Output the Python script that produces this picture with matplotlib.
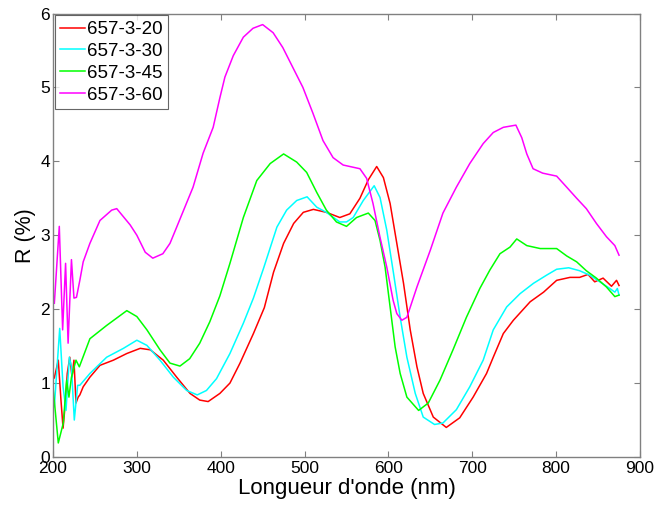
import matplotlib
matplotlib.use("Agg")
import matplotlib.pyplot as plt

# 657-3-20 (red)
wl_20 = [201.6, 206.3, 209.5, 212, 214.3, 217, 220, 222.7, 225, 227.4, 230, 232, 236, 244, 256, 272, 288,
         304, 316, 331.5, 347.5, 363.4, 375, 385, 399, 411, 423, 439, 452, 463, 475, 487, 498.5, 510.5,
         526, 542, 554, 566, 576, 586, 594, 602, 610, 618, 626, 634, 641.5, 653.5, 669, 685, 701, 717,
         725, 737, 749, 769, 785, 800.6, 816.5, 828, 838, 846, 856, 866, 872, 875]
r_20 = [1.07, 1.31, 0.77, 0.39, 0.68, 1.13, 1.35, 1.08, 1.31, 0.73, 0.81, 0.84, 0.95, 1.08, 1.24, 1.31, 1.40,
        1.47, 1.45, 1.31, 1.08, 0.86, 0.77, 0.75, 0.86, 1.00, 1.27, 1.67, 2.02, 2.50, 2.89, 3.16, 3.31, 3.35,
        3.31, 3.24, 3.29, 3.50, 3.75, 3.93, 3.78, 3.43, 2.89, 2.35, 1.72, 1.22, 0.86, 0.54, 0.40, 0.53, 0.81, 1.13,
        1.35, 1.67, 1.85, 2.10, 2.23, 2.39, 2.43, 2.43, 2.47, 2.37, 2.42, 2.31, 2.39, 2.32]

# 657-3-30 (cyan)
wl_30 = [201.6, 208, 212, 215.5, 219.5, 222, 225.4, 229.4, 232, 244, 264, 284, 300, 312, 327.6, 343.5,
         359.4, 372, 383, 395, 411, 427, 439, 451, 467, 478.6, 490.6, 503, 514.5, 526, 542, 550, 558, 570,
         583, 590, 598, 606, 614, 622, 632, 641.5, 655, 665, 681, 697, 713, 725, 741, 757, 773, 788.6,
         800.6, 815, 828, 840, 852, 864, 870, 873, 875]
r_30 = [0.68, 1.74, 0.95, 0.63, 1.35, 1.22, 0.50, 0.97, 0.97, 1.13, 1.35, 1.47, 1.58, 1.51, 1.31, 1.08,
        0.90, 0.84, 0.90, 1.06, 1.40, 1.81, 2.15, 2.55, 3.11, 3.34, 3.47, 3.52, 3.38, 3.31, 3.18, 3.18, 3.24, 3.47,
        3.67, 3.51, 3.07, 2.49, 1.89, 1.35, 0.86, 0.54, 0.44, 0.46, 0.64, 0.95, 1.31, 1.72, 2.03, 2.21, 2.35, 2.46,
        2.54, 2.56, 2.52, 2.46, 2.37, 2.28, 2.23, 2.28, 2.19]

# 657-3-45 (green)
wl_45 = [200.4, 206.3, 212.3, 216.3, 219, 222, 227.4, 231.4, 244, 264, 288, 300, 312, 327.6, 339.5,
         351.4, 363, 375, 387, 399, 411, 427, 443, 459, 475, 490.6, 502.5, 514.5, 526, 538, 550, 562,
         576, 584, 590, 596, 602, 608, 614, 622, 636, 647.5, 661.5, 677, 693, 709, 721, 733, 745, 753,
         765, 781, 800.6, 812.6, 824.5, 836, 848, 860, 870, 875]
r_45 = [0.90, 0.19, 0.46, 1.04, 0.81, 1.08, 1.31, 1.22, 1.60, 1.78, 1.98, 1.90, 1.72, 1.45, 1.27,
        1.23, 1.33, 1.54, 1.83, 2.18, 2.62, 3.24, 3.74, 3.97, 4.10, 3.99, 3.85, 3.58, 3.34, 3.18, 3.12, 3.24,
        3.30, 3.20, 2.93, 2.57, 2.03, 1.49, 1.13, 0.81, 0.63, 0.73, 1.04, 1.45, 1.89, 2.28, 2.53, 2.75, 2.84, 2.95,
        2.86, 2.82, 2.82, 2.72, 2.64, 2.52, 2.42, 2.30, 2.17, 2.19]

# 657-3-60 (magenta)
wl_60 = [201.6, 207.5, 211.5, 215, 218, 222, 225, 228, 232, 236, 244, 256, 270, 276, 292, 300, 310,
         319, 331, 339.5, 347.5, 367, 379, 391, 399, 405, 415, 427, 438.5, 450, 462.5, 474, 486, 498,
         510, 522, 534, 546, 566, 574, 581.6, 590, 598, 605.6, 610, 616, 622, 634, 650, 665, 681, 697,
         713, 725, 737, 752, 759, 765, 772.5, 784, 800.6, 812.6, 824.5, 836, 848, 860, 870, 875]
r_60 = [2.08, 3.12, 1.72, 2.62, 1.54, 2.67, 2.15, 2.16, 2.39, 2.64, 2.89, 3.20, 3.34, 3.36, 3.14, 3.00, 2.77,
        2.69, 2.75, 2.89, 3.11, 3.65, 4.11, 4.46, 4.86, 5.14, 5.43, 5.68, 5.80, 5.85, 5.74, 5.54, 5.27, 5.00,
        4.65, 4.28, 4.05, 3.95, 3.90, 3.77, 3.43, 2.97, 2.57, 2.12, 1.94, 1.85, 1.89, 2.30, 2.80, 3.30, 3.65, 3.97,
        4.24, 4.39, 4.46, 4.49, 4.32, 4.10, 3.90, 3.84, 3.80, 3.65, 3.50, 3.36, 3.16, 2.98, 2.86, 2.73]

labels = ["657-3-20", "657-3-30", "657-3-45", "657-3-60"]
colors = ["#ff0000", "#00ffff", "#00ff00", "#ff00ff"]
x_ticks = [200, 300, 400, 500, 600, 700, 800, 900]
y_ticks = [0, 1, 2, 3, 4, 5, 6]

plt.rcParams['font.family'] = ['Liberation Sans', 'DejaVu Sans']

fig = plt.figure(figsize=(6.59, 5.08), dpi=100)
ax = fig.add_axes([53 / 659, 1 - 457 / 508, (640 - 53) / 659, (457 - 13.5) / 508])

for wl, r, lab, c in zip([wl_20, wl_30, wl_45, wl_60], [r_20, r_30, r_45, r_60], labels, colors):
    ax.plot(wl, r, color=c, lw=1.1, label=lab)

ax.set_xlim(200, 900)
ax.set_ylim(0, 6)
ax.set_xticks(x_ticks)
ax.set_yticks(y_ticks)
ax.tick_params(direction='in', top=True, right=True, length=4, width=0.8,
               color='#808080', labelsize=12.5, labelcolor='black')
ax.tick_params(axis='y', pad=2)
ax.tick_params(axis='x', pad=3)
for s in ax.spines.values():
    s.set_color('#808080')
    s.set_linewidth(1.0)

ax.set_xlabel("Longueur d'onde (nm)", fontsize=16, labelpad=1)
ax.set_ylabel("R (%)", fontsize=15.5, labelpad=3)

leg = ax.legend(loc='upper left', fontsize=13.5, frameon=True, fancybox=False,
                handlelength=1.3, handletextpad=0.12, borderpad=0.3, labelspacing=0.25,
                borderaxespad=0.1)
leg.get_frame().set_edgecolor('#404040')
leg.get_frame().set_linewidth(0.8)

fig.savefig("out.png", dpi=100)
